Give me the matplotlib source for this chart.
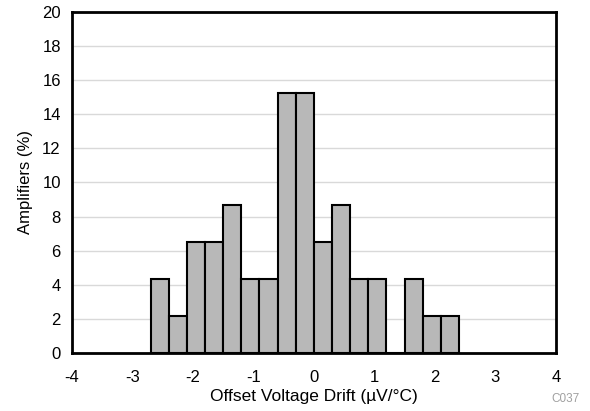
import matplotlib
matplotlib.use("Agg")
import matplotlib.pyplot as plt
import numpy as np

plt.rcParams['font.family'] = ['Liberation Sans', 'DejaVu Sans']

bin_edges = [-2.7, -2.4, -2.1, -1.8, -1.5, -1.2, -0.9, -0.6, -0.3, 0.0,
             0.3, 0.6, 0.9, 1.2, 1.5, 1.8, 2.1, 2.4]
percent = [4.35, 2.17, 6.52, 6.52, 8.70, 4.35, 4.35, 15.22, 15.22, 6.52,
           8.70, 4.35, 4.35, 0.0, 4.35, 2.17, 2.17]
x_ticks = [-4, -3, -2, -1, 0, 1, 2, 3, 4]
y_ticks = [0, 2, 4, 6, 8, 10, 12, 14, 16, 18, 20]

fig = plt.figure(figsize=(5.9, 4.11), dpi=100)
ax = fig.add_axes([0.122, 0.141, 0.820, 0.830])

lefts = np.array(bin_edges[:-1])
widths = np.diff(bin_edges)
ax.bar(lefts, percent, width=widths, align='edge', color='#b8b8b8',
       edgecolor='black', linewidth=1.5, zorder=3)

ax.set_xlim(-4, 4)
ax.set_ylim(0, 20)
ax.set_xticks(x_ticks)
ax.set_yticks(y_ticks)
ax.set_xticklabels([str(v) for v in x_ticks])
ax.set_yticklabels([str(v) for v in y_ticks])
ax.tick_params(length=0, labelsize=12)
ax.tick_params(axis='x', pad=12)
ax.tick_params(axis='y', pad=8)
ax.yaxis.grid(True, color='#d9d9d9', linewidth=1, zorder=0)
ax.set_axisbelow(True)
for s in ax.spines.values():
    s.set_linewidth(2)
    s.set_zorder(4)

ax.set_xlabel('Offset Voltage Drift (\u00b5V/\u00b0C)', fontsize=12.5, labelpad=3)
ax.set_ylabel('Amplifiers (%)', fontsize=12, labelpad=7)
fig.text(0.958, 0.03, 'C037', fontsize=8.5, color='#a0a0a0', ha='center', va='center')

fig.savefig('out.png', dpi=100)
